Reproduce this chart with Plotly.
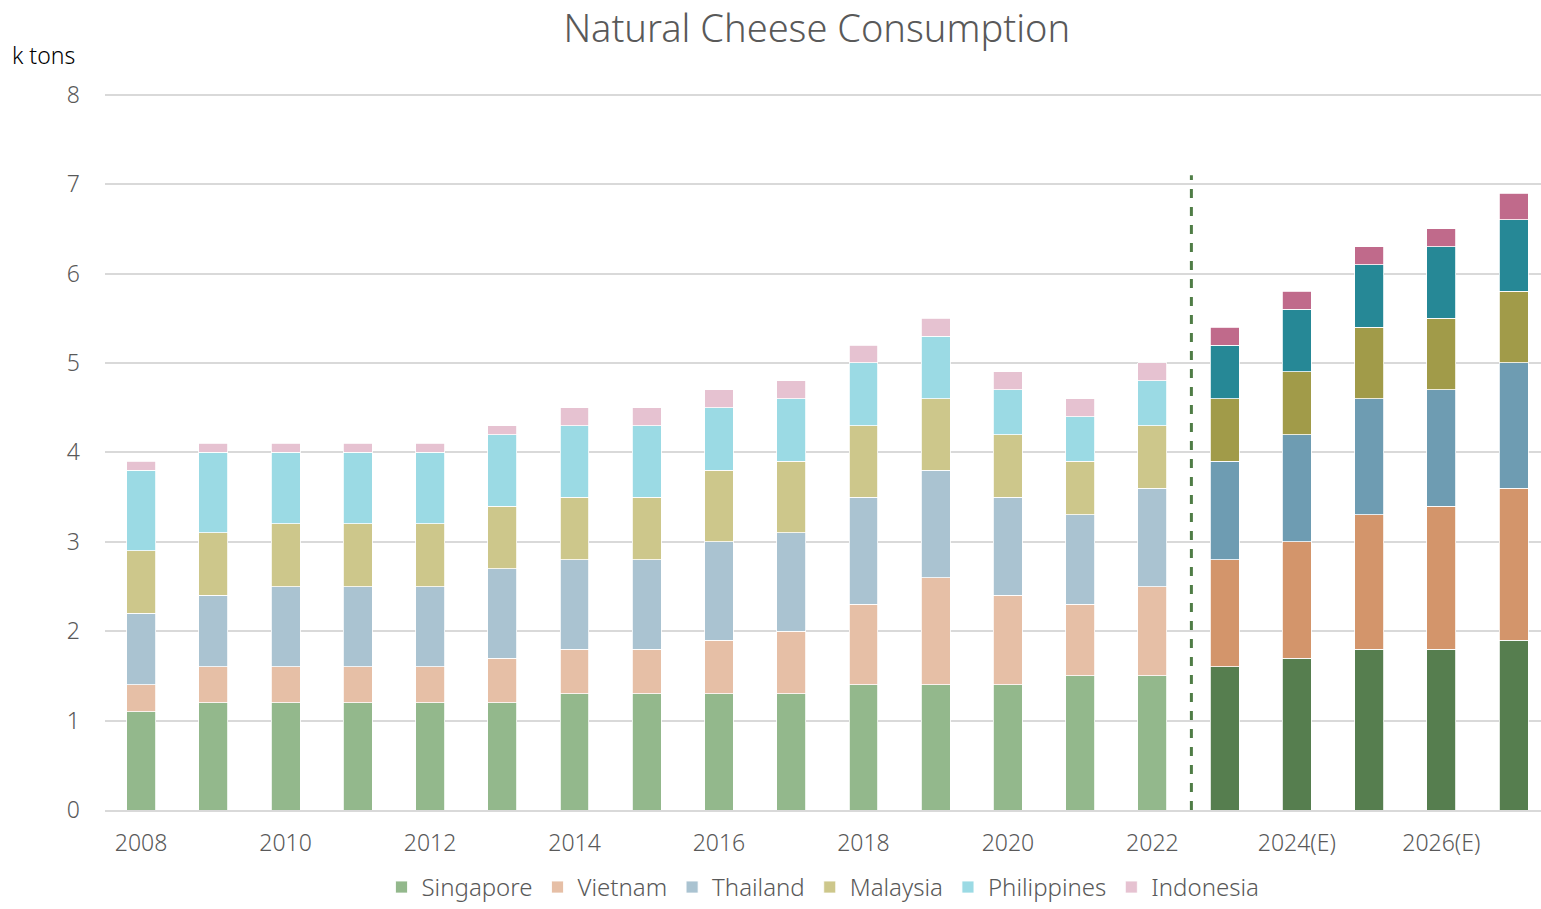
import plotly.graph_objects as go

years = ["2008", "2009", "2010", "2011", "2012", "2013", "2014", "2015", "2016", "2017",
         "2018", "2019", "2020", "2021", "2022", "2023(E)", "2024(E)", "2025(E)", "2026(E)", "2027(E)"]
n_actual = 15  # 2008-2022 are actuals, the rest are estimates

singapore   = [1.1, 1.2, 1.2, 1.2, 1.2, 1.2, 1.3, 1.3, 1.3, 1.3, 1.4, 1.4, 1.4, 1.5, 1.5, 1.6, 1.7, 1.8, 1.8, 1.9]
vietnam     = [0.3, 0.4, 0.4, 0.4, 0.4, 0.5, 0.5, 0.5, 0.6, 0.7, 0.9, 1.2, 1.0, 0.8, 1.0, 1.2, 1.3, 1.5, 1.6, 1.7]
thailand    = [0.8, 0.8, 0.9, 0.9, 0.9, 1.0, 1.0, 1.0, 1.1, 1.1, 1.2, 1.2, 1.1, 1.0, 1.1, 1.1, 1.2, 1.3, 1.3, 1.4]
malaysia    = [0.7, 0.7, 0.7, 0.7, 0.7, 0.7, 0.7, 0.7, 0.8, 0.8, 0.8, 0.8, 0.7, 0.6, 0.7, 0.7, 0.7, 0.8, 0.8, 0.8]
philippines = [0.9, 0.9, 0.8, 0.8, 0.8, 0.8, 0.8, 0.8, 0.7, 0.7, 0.7, 0.7, 0.5, 0.5, 0.5, 0.6, 0.7, 0.7, 0.8, 0.8]
indonesia   = [0.1, 0.1, 0.1, 0.1, 0.1, 0.1, 0.2, 0.2, 0.2, 0.2, 0.2, 0.2, 0.2, 0.2, 0.2, 0.2, 0.2, 0.2, 0.2, 0.3]

tick_years = ["2008", "2010", "2012", "2014", "2016", "2018", "2020", "2022", "2024(E)", "2026(E)"]
y_ticks = [0, 1, 2, 3, 4, 5, 6, 7, 8]

series = [
    ("Singapore", singapore, "#93b88c", "#567e4f"),
    ("Vietnam", vietnam, "#e6bfa6", "#d3956b"),
    ("Thailand", thailand, "#aac3d1", "#6e9cb2"),
    ("Malaysia", malaysia, "#cdc78b", "#a19b49"),
    ("Philippines", philippines, "#9bdae4", "#268896"),
    ("Indonesia", indonesia, "#e6c2d1", "#c06a8b"),
]

FONT = "Noto Sans, sans-serif"
GREY = "#595959"

fig = go.Figure()
for name, vals, light, dark in series:
    colors = [light] * n_actual + [dark] * (len(years) - n_actual)
    fig.add_trace(go.Bar(
        x=years, y=vals, name=name,
        marker=dict(color=colors, line=dict(color="white", width=0.8)),
        width=0.4,
    ))

# dashed separator between actuals and estimates
fig.add_shape(type="line", xref="x", yref="y",
              x0=n_actual - 0.46, x1=n_actual - 0.46, y0=0, y1=7.1,
              line=dict(color="#4f7d46", width=3, dash="dash"))

fig.add_annotation(text="k tons", xref="paper", yref="paper", x=-0.066, y=1.053,
                   xanchor="left", yanchor="middle", showarrow=False,
                   font=dict(family=FONT, size=23, color="#000000", weight=300))

fig.update_layout(
    width=1541, height=909,
    margin=dict(l=105, r=0, t=93, b=99, autoexpand=False),
    barmode="stack",
    bargap=0.6,
    plot_bgcolor="white", paper_bgcolor="white",
    font=dict(family=FONT, color=GREY, size=23, weight=300),
    title=dict(text="Natural Cheese Consumption", x=0.53, xanchor="center",
               y=0.968, yanchor="middle",
               font=dict(family=FONT, size=38, color=GREY, weight=300)),
    xaxis=dict(type="category", categoryorder="array", categoryarray=years,
               range=[-0.5, 19.38], tickmode="array", tickvals=tick_years,
               ticktext=tick_years, showgrid=False, showline=True,
               linecolor="#d9d9d9", linewidth=2, ticks="",
               tickfont=dict(family=FONT, size=23, color=GREY, weight=300),
               ticklabelstandoff=11),
    yaxis=dict(range=[0, 8.02], tickvals=y_ticks, showgrid=True, gridcolor="#d9d9d9",
               gridwidth=2, zeroline=False, showline=False, ticks="",
               tickfont=dict(family=FONT, size=23, color=GREY, weight=300),
               ticklabelstandoff=24),
    legend=dict(orientation="h", x=0.5, xanchor="center", y=-0.108, yanchor="middle",
                font=dict(family=FONT, size=24, color=GREY, weight=300),
                traceorder="normal", itemwidth=30),
    showlegend=True,
)

fig.write_html("out.html")
